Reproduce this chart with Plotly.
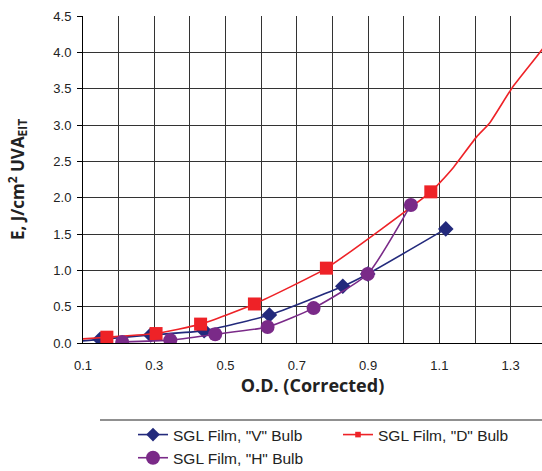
import plotly.graph_objects as go

# ---- data ----
v_x = [0.08, 0.148, 0.29, 0.44, 0.623, 0.829, 0.899, 1.118]
v_y = [0.02, 0.05, 0.11, 0.17, 0.385, 0.78, 0.95, 1.57]
v_marked = [False, True, True, True, True, True, True, True]

d_x = [0.08, 0.167, 0.305, 0.43, 0.581, 0.783, 1.076, 1.10, 1.14, 1.205, 1.24, 1.304, 1.39, 1.45]
d_y = [0.05, 0.08, 0.13, 0.26, 0.537, 1.03, 2.08, 2.20, 2.42, 2.84, 3.02, 3.51, 4.05, 4.50]
d_marked = [False, True, True, True, True, True, True, False, False, False, False, False, False, False]

h_x = [0.21, 0.345, 0.471, 0.618, 0.747, 0.899, 1.02]
h_y = [0.015, 0.04, 0.12, 0.22, 0.48, 0.95, 1.90]

x_ticks = [0.1, 0.3, 0.5, 0.7, 0.9, 1.1, 1.3]
x_tick_labels = ["0.1", "0.3", "0.5", "0.7", "0.9", "1.1", "1.3"]

BLUE = "#232A7C"
RED = "#EE2227"
PURPLE = "#7A2A88"

fig = go.Figure()
fig.add_trace(go.Scatter(
    x=v_x, y=v_y, mode="lines+markers", name='SGL Film, "V" Bulb',
    line=dict(color=BLUE, width=1.6, shape="spline", smoothing=0.5),
    marker=dict(symbol="diamond", color=BLUE, opacity=1, line=dict(width=0),
                size=[12 if m else 0 for m in v_marked]),
))
fig.add_trace(go.Scatter(
    x=d_x, y=d_y, mode="lines+markers", name='SGL Film, "D" Bulb',
    line=dict(color=RED, width=1.6, shape="spline", smoothing=0.5),
    marker=dict(symbol="square", color=RED, opacity=1, line=dict(width=0),
                size=[13 if m else 0 for m in d_marked]),
))
fig.add_trace(go.Scatter(
    x=h_x, y=h_y, mode="lines+markers", name='SGL Film, "H" Bulb',
    line=dict(color=PURPLE, width=1.6, shape="spline", smoothing=0.5),
    marker=dict(symbol="circle", color=PURPLE, opacity=1, line=dict(width=0), size=14),
))

GRID = "#333333"
fig.update_layout(
    width=542, height=471,
    margin=dict(l=83, r=0, t=16, b=128),
    paper_bgcolor="white", plot_bgcolor="white",
    font=dict(family="Arial, Liberation Sans, sans-serif", size=13, color="#222"),
    xaxis=dict(
        range=[0.1, 1.388], tickvals=x_ticks, ticktext=x_tick_labels,
        showgrid=True, gridcolor=GRID, gridwidth=1,
        minor=dict(dtick=0.1, tick0=0.1, showgrid=True, gridcolor=GRID, gridwidth=1),
        showline=True, linecolor="black", linewidth=1,
        ticks="", ticklabelstandoff=10, zeroline=False,
        tickfont=dict(size=13),
        title=dict(text="O.D. (Corrected)", font=dict(family="Open Sans", size=18, color="#222", weight="bold"), standoff=5),
    ),
    yaxis=dict(
        range=[0, 4.5], dtick=0.5, tickformat=".1f",
        showgrid=True, gridcolor=GRID, gridwidth=1,
        showline=True, linecolor="black", linewidth=1,
        ticks="outside", ticklen=5, tickcolor="black", zeroline=False,
        tickfont=dict(size=13), ticklabelstandoff=3,
        title=dict(text="E, J/cm<sup>2</sup> UVA<sub>EIT</sub>", font=dict(family="Open Sans", size=17, color="#222", weight="bold"), standoff=24),
    ),
    legend=dict(
        orientation="h", xref="container", yref="container",
        x=133 / 542, y=1 - 418 / 471, xanchor="left", yanchor="top",
        entrywidth=160, entrywidthmode="pixels",
        font=dict(family="Arial, Liberation Sans, sans-serif", size=15.5, color="#222"),
        bgcolor="rgba(0,0,0,0)", tracegroupgap=0,
    ),
    shapes=[dict(type="line", xref="paper", yref="paper",
                 x0=(100 - 83) / 459, x1=1.0, y0=(343 - 420) / 327, y1=(343 - 420) / 327,
                 line=dict(color="#222", width=1.2))],
)

fig.write_html("out.html")
